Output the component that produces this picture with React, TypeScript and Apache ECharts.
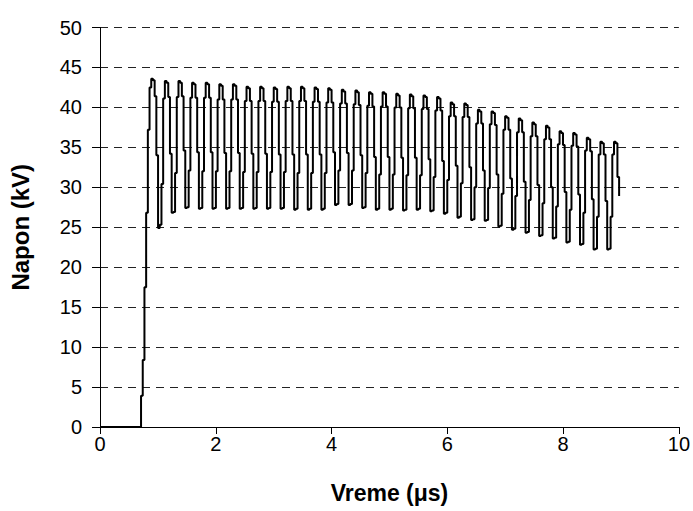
import React, { useEffect, useRef } from "react";
import * as echarts from "echarts";

// Time axis (µs) and voltage axis (kV) ticks
const xTicks = [0, 2, 4, 6, 8, 10];
const yTicks = [0, 5, 10, 15, 20, 25, 30, 35, 40, 45, 50];

// Voltage is 0 kV from t = 0 until the first sample
const initialTime = 0;
const initialVoltage = 0;

// Sampled staircase voltage (kV); samples are spaced uniformly in time
const sampleStart = 0.709; // µs
const sampleStep = 0.02939; // µs
const voltageSamples = [
  3.9, 8.4, 17.5, 26.8,
  37.2, 42.5, 43.6, 43.4, 41.4, 34.0, 24.9, 25.3,
  30.4, 41.1, 43.3, 43.1, 41.3, 34.2, 26.8, 26.9,
  31.8, 41.3, 43.3, 43.1, 41.4, 34.6, 27.4, 27.5,
  32.1, 41.2, 43.1, 42.9, 41.2, 34.4, 27.3, 27.4,
  32.0, 41.2, 43.1, 42.9, 41.2, 34.4, 27.3, 27.4,
  32.0, 41.0, 42.9, 42.7, 41.0, 34.3, 27.3, 27.4,
  32.0, 41.0, 42.9, 42.7, 41.0, 34.3, 27.3, 27.4,
  31.9, 40.8, 42.6, 42.4, 40.8, 34.2, 27.3, 27.4,
  31.9, 40.8, 42.6, 42.4, 40.8, 34.2, 27.3, 27.4,
  31.9, 40.7, 42.5, 42.3, 40.7, 34.1, 27.3, 27.4,
  31.9, 40.8, 42.6, 42.4, 40.8, 34.1, 27.2, 27.3,
  31.8, 40.8, 42.6, 42.4, 40.8, 34.1, 27.2, 27.3,
  31.8, 40.7, 42.5, 42.3, 40.7, 34.1, 27.2, 27.3,
  31.8, 40.6, 42.4, 42.2, 40.6, 34.4, 27.8, 27.9,
  32.1, 40.5, 42.2, 42.0, 40.5, 34.3, 27.8, 27.9,
  32.1, 40.4, 42.1, 41.9, 40.3, 34.0, 27.4, 27.5,
  31.8, 40.2, 41.9, 41.7, 40.1, 33.8, 27.2, 27.3,
  31.6, 40.1, 41.9, 41.7, 40.1, 33.8, 27.2, 27.3,
  31.6, 40.0, 41.7, 41.5, 40.0, 33.7, 27.1, 27.2,
  31.5, 39.9, 41.6, 41.4, 39.9, 33.7, 27.2, 27.3,
  31.5, 39.8, 41.5, 41.3, 39.8, 33.5, 27.0, 27.1,
  31.3, 39.6, 41.3, 41.1, 39.6, 33.3, 26.7, 26.8,
  30.9, 38.9, 40.6, 40.4, 38.9, 32.7, 26.2, 26.3,
  30.5, 38.8, 40.5, 40.3, 38.8, 32.5, 25.9, 26.0,
  30.0, 38.0, 39.7, 39.5, 38.0, 32.1, 25.8, 25.9,
  29.9, 37.9, 39.5, 39.3, 37.8, 31.6, 25.1, 25.2,
  29.2, 37.2, 38.9, 38.7, 37.2, 31.1, 24.7, 24.8,
  28.9, 36.9, 38.6, 38.4, 36.9, 30.7, 24.3, 24.4,
  28.4, 36.4, 38.1, 37.9, 36.4, 30.3, 23.9, 24.0,
  28.0, 36.0, 37.7, 37.5, 36.0, 30.0, 23.6, 23.7,
  27.6, 35.4, 37.0, 36.8, 35.3, 29.4, 23.1, 23.2,
  27.2, 35.2, 36.8, 36.6, 35.1, 29.1, 22.8, 22.9,
  26.8, 34.6, 36.2, 36.0, 34.5, 28.5, 22.2, 22.3,
  26.3, 34.1, 35.7, 35.5, 34.1, 28.3, 22.2, 22.3,
  26.3, 34.1, 35.7, 35.5, 31.3, 28.9,
];

const xAxisTitle = "Vreme (μs)";
const yAxisTitle = "Napon (kV)";

export default function App() {
  const ref = useRef<HTMLDivElement>(null);

  useEffect(() => {
    if (!ref.current) return;
    const chart = echarts.init(ref.current, null, { renderer: "svg" });

    const data: number[][] = [[initialTime, initialVoltage]];
    voltageSamples.forEach((v, i) => {
      data.push([sampleStart + i * sampleStep, v]);
    });

    const font = "'Liberation Sans', Arial, sans-serif";

    chart.setOption({
      animation: false,
      backgroundColor: "#ffffff",
      grid: { left: 97, right: 14, top: 27.5, bottom: 84, containLabel: false },
      xAxis: {
        type: "value",
        min: xTicks[0],
        max: xTicks[xTicks.length - 1],
        interval: xTicks[1] - xTicks[0],
        name: xAxisTitle,
        nameLocation: "middle",
        nameGap: 54,
        nameTextStyle: { fontFamily: font, fontSize: 23, fontWeight: "bold", color: "#000" },
        axisLine: { show: true, onZero: false, lineStyle: { color: "#000", width: 1 } },
        axisTick: { show: true, inside: false, length: 7, lineStyle: { color: "#000", width: 1 } },
        axisLabel: { fontFamily: font, fontSize: 20, color: "#000", margin: 7 },
        splitLine: { show: false },
      },
      yAxis: {
        type: "value",
        min: yTicks[0],
        max: yTicks[yTicks.length - 1],
        interval: yTicks[1] - yTicks[0],
        name: yAxisTitle,
        nameLocation: "middle",
        nameGap: 68,
        nameRotate: 90,
        nameTextStyle: { fontFamily: font, fontSize: 24, fontWeight: "bold", color: "#000" },
        axisLine: { show: true, lineStyle: { color: "#000", width: 1 } },
        axisTick: { show: true, inside: false, length: 8, lineStyle: { color: "#000", width: 1 } },
        axisLabel: { fontFamily: font, fontSize: 20, color: "#000", margin: 18 },
        splitLine: {
          show: true,
          lineStyle: { color: "#222", width: 1, type: [8, 6] },
        },
      },
      series: [
        {
          type: "line",
          step: "end",
          data,
          showSymbol: false,
          symbol: "none",
          silent: true,
          lineStyle: { color: "#000", width: 2 },
          z: 5,
        },
      ],
    });

    return () => {
      chart.dispose();
    };
  }, []);

  return (
    <div
      ref={ref}
      style={{ position: "absolute", left: 0, top: 0, width: 693, height: 511 }}
    />
  );
}
